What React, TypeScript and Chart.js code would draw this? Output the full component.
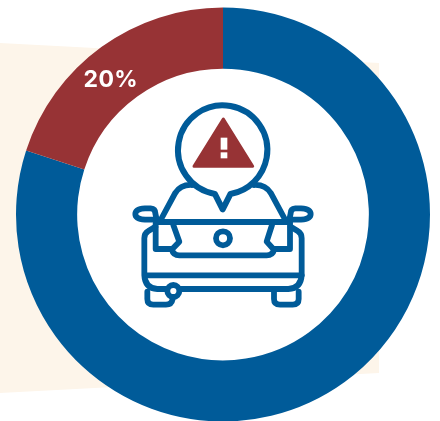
import React, { useEffect, useRef } from "react";
import { Chart, registerables } from "chart.js";

Chart.register(...registerables);

const categories = ["Other", "Flagged"];
const shares = [80, 20];
const sliceColors = ["#005B99", "#973335"];
const labelText = "20%";

const BLUE = "#005B99";
const RED = "#973335";
const CREAM = "#FDF5EA";

const backdrop = {
  id: "backdrop",
  beforeDraw(chart: any) {
    const c = chart.ctx;
    c.save();
    c.fillStyle = CREAM;
    c.beginPath();
    c.moveTo(0, 43);
    c.lineTo(379, 63);
    c.lineTo(379, 373);
    c.lineTo(0, 393);
    c.closePath();
    c.fill();
    const arc = chart.getDatasetMeta(0).data[0];
    c.fillStyle = "#FFFFFF";
    c.beginPath();
    c.arc(arc.x, arc.y, arc.innerRadius + 1, 0, Math.PI * 2);
    c.fill();
    c.restore();
  },
};

// zoom-crop coordinates to page coordinates
const X = (v: number) => 120 + v / 3;
const Y = (v: number) => 95 + v / 3;

function path(c: CanvasRenderingContext2D, build: (p: any) => void) {
  const p = {
    m: (x: number, y: number) => c.moveTo(X(x), Y(y)),
    l: (x: number, y: number) => c.lineTo(X(x), Y(y)),
    q: (a: number, b: number, x: number, y: number) => c.quadraticCurveTo(X(a), Y(b), X(x), Y(y)),
  };
  c.beginPath();
  build(p);
  c.stroke();
}

const icon = {
  id: "icon",
  afterDraw(chart: any) {
    const c: CanvasRenderingContext2D = chart.ctx;
    c.save();
    c.strokeStyle = BLUE;
    c.lineJoin = "round";
    c.lineCap = "round";

    // speech bubble with tail
    c.lineWidth = 6;
    const cx = X(308), cy = Y(165), r = 134 / 3;
    const tailA = Math.atan2(135, 24);
    const tailB = Math.atan2(135, -24);
    c.beginPath();
    c.arc(cx, cy, r, tailB, tailA + Math.PI * 2, false);
    c.lineTo(X(308), Y(343));
    c.closePath();
    c.stroke();

    c.lineWidth = 5.8;
    // shoulders
    path(c, (p) => {
      p.m(216, 270); p.q(182, 268, 165, 295); p.l(122, 375);
    });
    path(c, (p) => {
      p.m(402, 270); p.q(436, 268, 453, 295); p.l(496, 375);
    });
    // windshield base
    path(c, (p) => {
      p.m(108, 381); p.l(510, 381);
    });
    // mirrors
    path(c, (p) => {
      p.m(110, 374); p.l(75, 374); p.q(46, 372, 46, 357); p.q(46, 342, 75, 340);
      p.l(92, 340); p.q(106, 341, 106, 355); p.l(110, 374);
    });
    path(c, (p) => {
      p.m(508, 374); p.l(543, 374); p.q(572, 372, 572, 357); p.q(572, 342, 543, 340);
      p.l(526, 340); p.q(512, 341, 512, 355); p.l(508, 374);
    });
    // body
    path(c, (p) => {
      p.m(106, 395); p.l(85, 408); p.q(73, 415, 73, 430); p.l(73, 540); p.q(75, 580, 112, 582);
      p.l(505, 582); p.q(543, 580, 545, 540); p.l(545, 430); p.q(545, 415, 533, 408); p.l(512, 395);
    });
    path(c, (p) => {
      p.m(75, 541); p.l(545, 541);
    });
    // pillars and laptop base
    path(c, (p) => {
      p.m(107, 385); p.l(107, 462); p.l(157, 462); p.l(178, 440); p.l(160, 390);
    });
    path(c, (p) => {
      p.m(510, 385); p.l(510, 462); p.l(460, 462); p.l(440, 440); p.l(456, 390);
    });
    path(c, (p) => {
      p.m(156, 465); p.q(160, 481, 178, 481); p.l(440, 481); p.q(458, 481, 462, 465);
    });
    // wheels
    path(c, (p) => {
      p.m(82, 590); p.l(82, 612); p.q(82, 629, 100, 629); p.l(138, 629); p.q(155, 629, 158, 612);
    });
    path(c, (p) => {
      p.m(462, 590); p.l(462, 612); p.q(462, 629, 480, 629); p.l(518, 629); p.q(536, 629, 536, 612); p.l(536, 590);
    });
    // small rings
    c.fillStyle = "#FFFFFF";
    c.beginPath();
    c.arc(X(309), Y(430), 7, 0, Math.PI * 2);
    c.stroke();
    c.beginPath();
    c.arc(X(160), Y(588), 6, 0, Math.PI * 2);
    c.fill();
    c.stroke();

    // warning triangle
    c.fillStyle = RED;
    c.strokeStyle = RED;
    c.lineWidth = 3;
    c.beginPath();
    c.moveTo(X(310), Y(72));
    c.lineTo(X(398), Y(214));
    c.lineTo(X(222), Y(214));
    c.closePath();
    c.fill();
    c.stroke();
    c.fillStyle = "#FFFFFF";
    c.fillRect(X(302), Y(128), 20 / 3, 36 / 3);
    c.fillRect(X(302), Y(172), 20 / 3, 18 / 3);
    c.restore();

    // slice label
    const arc = chart.getDatasetMeta(0).data[1];
    const pt = arc.getCenterPoint();
    c.save();
    c.fillStyle = "#FFFFFF";
    c.font = '700 23px Inter, "Open Sans", sans-serif';
    (c as any).letterSpacing = "0.4px";
    c.textAlign = "center";
    c.textBaseline = "middle";
    c.fillText(labelText, pt.x - 8.5, pt.y + 8.5);
    c.restore();
  },
};

export default function App() {
  const ref = useRef<HTMLCanvasElement>(null);
  useEffect(() => {
    if (!ref.current) return;
    const chart = new Chart(ref.current, {
      type: "doughnut",
      data: {
        labels: categories,
        datasets: [{ data: shares, backgroundColor: sliceColors, borderWidth: 0 }],
      },
      options: {
        animation: false,
        responsive: false,
        devicePixelRatio: 1,
        radius: 207,
        cutout: 145.5,
        rotation: 0,
        layout: { padding: { left: 16, right: 10, top: 8, bottom: -1 } },
        plugins: { legend: { display: false }, tooltip: { enabled: false } },
      } as any,
      plugins: [backdrop, icon],
    });
    return () => chart.destroy();
  }, []);
  return (
    <div style={{ position: "absolute", left: 0, top: 0, width: 440, height: 421, background: "#fff" }}>
      <canvas ref={ref} width={440} height={421} style={{ display: "block" }} />
    </div>
  );
}
